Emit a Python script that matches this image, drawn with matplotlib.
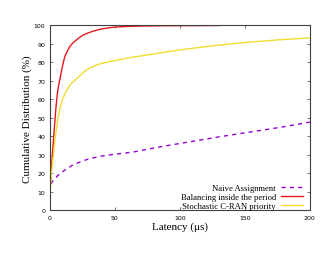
import numpy as np
import matplotlib
matplotlib.use("Agg")
import matplotlib.pyplot as plt

# latency (us) / cumulative distribution (%)
naive_x = [0, 0.4, 2, 4, 6.5, 9.4, 12, 14.5, 17, 19.6, 23, 26, 29, 32.5, 38.8, 50, 64.5, 76, 88, 110, 130, 155, 178.6, 200]
naive_y = [10, 13, 15.5, 17, 19, 20.6, 22, 23, 24.2, 25.1, 26.1, 26.9, 27.6, 28.2, 29.3, 30.4, 31.6, 33.2, 34.8, 37.4, 39.8, 42.5, 45.1, 47.8]

balance_x = [0, 0.5, 1, 1.5, 2, 3, 4, 5, 6, 7, 8, 9, 10, 11, 12, 14, 16, 18, 20, 23, 26, 30, 34, 39, 45, 50, 60, 70, 85, 100, 130]
balance_y = [7, 13, 18, 23, 28, 38, 47, 56, 63, 67.5, 71, 74.7, 78, 81.2, 83.7, 86.6, 89, 90.6, 91.8, 93.5, 94.9, 96.1, 97, 98, 98.7, 99.1, 99.5, 99.7, 99.85, 99.9, 100]

stoch_x = [0, 0.5, 1, 1.5, 2, 3, 4.5, 6.5, 8, 10, 12, 14, 17, 21, 25, 29, 34, 39, 45, 52, 65, 80, 100, 125, 150, 175, 200]
stoch_y = [7, 10, 15, 20, 23.5, 30, 40, 50, 55, 60, 63.3, 66, 68.8, 71.3, 74, 76.3, 78, 79.3, 80.3, 81.3, 83, 84.6, 86.8, 89, 90.8, 92.2, 93.3]

labels = ["Naive Assignment", "Balancing inside the period", "Stochastic C-RAN priority"]

fig = plt.figure(figsize=(3.3, 2.55), dpi=100)
ax = fig.add_axes([0.15, 0.1706, 0.789, 0.7255])

ax.plot(naive_x, naive_y, color="#9400d3", lw=1.0, dashes=(3, 3), label=labels[0])
ax.plot(balance_x, balance_y, color="#e41a1c", lw=1.0, label=labels[1])
ax.plot(stoch_x, stoch_y, color="#f0dc30", lw=1.0, label=labels[2])

ax.set_xlim(0, 200)
ax.set_ylim(0, 100)
ax.set_xticks(np.arange(0, 201, 50))
ax.set_yticks(np.arange(0, 101, 10))
ax.tick_params(direction="in", length=2.5, width=0.5, labelsize=4.5,
               top=True, right=True, colors="#404040", pad=3)
ax.tick_params(labelcolor="black")
for s in ax.spines.values():
    s.set_linewidth(0.8)
    s.set_color("#404040")

ax.set_xlabel("Latency (\u03bcs)", family="Liberation Serif", fontsize=8, labelpad=1)
ax.set_ylabel("Cumulative Distribution (%)", family="Liberation Serif", fontsize=8, labelpad=1)

leg = ax.legend(loc="lower right", bbox_to_anchor=(0.985, -0.012), frameon=False,
                markerfirst=False, prop={"family": "Liberation Serif", "size": 6.2},
                handlelength=2.6, handletextpad=0.6, labelspacing=0.1,
                borderaxespad=0.0, borderpad=0.3)
for t in leg.get_texts():
    t.set_ha("right")
leg._legend_box.align = "right"

fig.savefig("out.png", dpi=100)
